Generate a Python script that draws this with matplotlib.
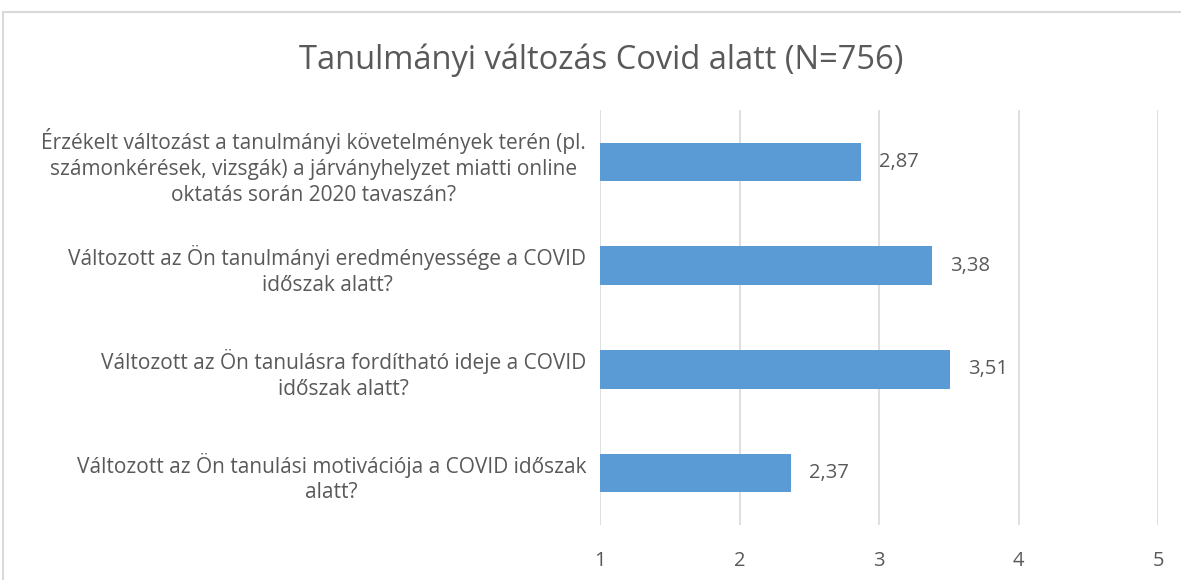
import matplotlib.pyplot as plt
from matplotlib.patches import Rectangle

plt.rcParams['font.family'] = ['Open Sans', 'DejaVu Sans']

title = 'Tanulmányi változás Covid alatt (N=756)'
questions = [
    'Érzékelt változást a tanulmányi követelmények terén (pl.\nszámonkérések, vizsgák) a járványhelyzet miatti online\noktatás során 2020 tavaszán?',
    'Változott az Ön tanulmányi eredményessége a COVID\nidőszak alatt?',
    'Változott az Ön tanulásra fordítható ideje a COVID\nidőszak alatt?',
    'Változott az Ön tanulási motivációja a COVID időszak\nalatt?',
]
values = [2.87, 3.38, 3.51, 2.37]
ticks = [1, 2, 3, 4, 5]

txt = '#595959'
grid = '#D9D9D9'
bar_color = '#5B9BD5'
fs = 14.5

fig = plt.figure(figsize=(11.81, 5.8), dpi=100)
fig.add_artist(Rectangle((3 / 1181, -0.1), 1.2, 1 - 12 / 580 + 0.1,
                         transform=fig.transFigure, fill=False,
                         edgecolor=grid, linewidth=1.5))
ax = fig.add_axes([600 / 1181, 1 - 525 / 580, 558 / 1181, 415 / 580])

pos = list(range(len(values)))
ax.barh(pos, [v - 1 for v in values], left=1, height=0.37, color=bar_color, zorder=3)
for p, v in zip(pos, values):
    ax.text(v + 0.13, p, f'{v:.2f}'.replace('.', ','), va='center', ha='left',
            fontsize=fs, color=txt)

ax.set_xlim(1, 5)
ax.set_ylim(3.5, -0.5)
ax.set_xticks(ticks)
ax.set_xticklabels([str(t) for t in ticks], fontsize=fs, color=txt)
ax.set_yticks(pos)
ax.set_yticklabels(questions, fontsize=15, color=txt, multialignment='center',
                   linespacing=1.3)
ax.tick_params(axis='y', length=0, pad=10)
ax.tick_params(axis='x', length=0, pad=19)
ax.grid(axis='x', color=grid, linewidth=1.2, zorder=0)
for s in ax.spines.values():
    s.set_visible(False)

fig.text(601 / 1181, 1 - 60 / 580, title, ha='center', va='center',
         fontsize=23.5, color=txt)

fig.savefig('out.png', dpi=100)
